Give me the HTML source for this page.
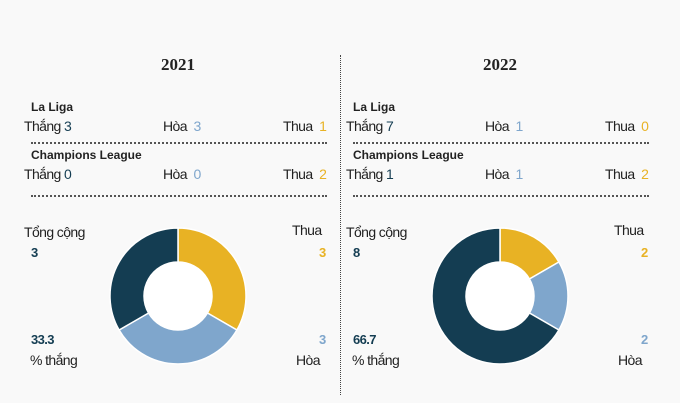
<!DOCTYPE html>
<html><head><meta charset="utf-8">
<style>
body{margin:0;width:680px;height:403px;background:#f9f9f9;position:relative;overflow:hidden;font-family:"Liberation Sans",sans-serif;color:#222}
.t{position:absolute;font-size:14px;letter-spacing:-0.6px;white-space:nowrap}
.b{font-weight:bold;font-size:12px;letter-spacing:0}
.h{position:absolute;font-family:"Liberation Serif",serif;font-weight:bold;font-size:17px}
.dot{position:absolute;height:0;border-top:2px dotted #555}
.d{color:#143d52}.bl{color:#7fa6cc}.y{color:#e8b224}
.n{font-size:13px;font-weight:bold}
</style></head><body>
<div style="position:absolute;left:340px;top:55px;height:340px;border-left:1px dotted #444"></div>
<div id="p1"></div>
<div id="p2"></div>
<svg id="svg" width="680" height="403" style="position:absolute;left:0;top:0"></svg>
<script>
const years=["2021","2022"];
const laliga=[[3,3,1],[7,1,0]];
const ucl=[[0,0,2],[1,1,2]];
const totals=[[3,3,3],[8,2,2]]; // win, draw, loss
const winPct=["33.3","66.7"];
const colors=["#143d52","#7fa6cc","#e8b224"];
const cls=["d","bl","y"];
function add(parent,html,x,y,c,name){const e=document.createElement('div');e.className=c;e.style.left=x+'px';e.style.top=y+'px';e.innerHTML=html;


document.body.appendChild(e);return e;}
const svg=document.getElementById('svg');const NS="http://www.w3.org/2000/svg";
years.forEach((yr,i)=>{
 const ox=i*322;
 add(0,yr,ox+161,55,'h','year-title');
 [[laliga[i],"La Liga",100,118,142],[ucl[i],"Champions League",148,166,195]].forEach(([v,lab,ly,ry,dy])=>{
  add(0,lab,ox+31,ly,'t b','competition-label');
  add(0,'Thắng <span class="d">'+v[0]+'</span>',ox+24,ry,'t','wins-stat');
  add(0,'Hòa &nbsp;<span class="bl">'+v[1]+'</span>',ox+163,ry,'t','draws-stat');
  add(0,'Thua &nbsp;<span class="y">'+v[2]+'</span>',ox+283,ry,'t','losses-stat');
  const d=document.createElement('div');d.className='dot';d.style.left=(ox+31)+'px';d.style.top=dy+'px';d.style.width='296px';
  
  
  document.body.appendChild(d);
 });
 const tv=totals[i];
 add(0,'Tổng cộng',ox+24,224,'t','total-label');
 add(0,tv[0],ox+31,245,'t n d','total-value');
 add(0,'Thua',ox+292,222,'t','loss-label');
 add(0,tv[2],ox+319,245,'t n y','loss-value');
 add(0,winPct[i],ox+31,332,'t n d','win-pct-value');
 add(0,'% thắng',ox+30,352,'t','win-pct-label');
 add(0,tv[1],ox+319,332,'t n bl','draw-value');
 add(0,'Hòa',ox+296,352,'t','draw-label');
 // donut: loss, draw, win clockwise from top
 const cx=178+ox,cy=296,R=68,r=34;
 const order=[2,1,0];const sum=tv[0]+tv[1]+tv[2];let a=0;
 order.forEach(k=>{
  const a0=a,a1=a+tv[k]/sum*2*Math.PI;a=a1;
  const p=(ang,rad)=>[cx+rad*Math.sin(ang),cy-rad*Math.cos(ang)];
  const lg=(a1-a0)>Math.PI?1:0;
  const [x0,y0]=p(a0,R),[x1,y1]=p(a1,R),[x2,y2]=p(a1,r),[x3,y3]=p(a0,r);
  const path=document.createElementNS(NS,'path');
  path.setAttribute('d',`M${x0},${y0}A${R},${R} 0 ${lg} 1 ${x1},${y1}L${x2},${y2}A${r},${r} 0 ${lg} 0 ${x3},${y3}Z`);
  path.setAttribute('fill',colors[k]);path.setAttribute('stroke','#fff');path.setAttribute('stroke-width','1.5');
  
  
  svg.appendChild(path);
 });
 const c=document.createElementNS(NS,'circle');c.setAttribute('cx',cx);c.setAttribute('cy',cy);c.setAttribute('r',r);c.setAttribute('fill','#fff');
 
 
 svg.appendChild(c);
});
</script>
</body></html>
